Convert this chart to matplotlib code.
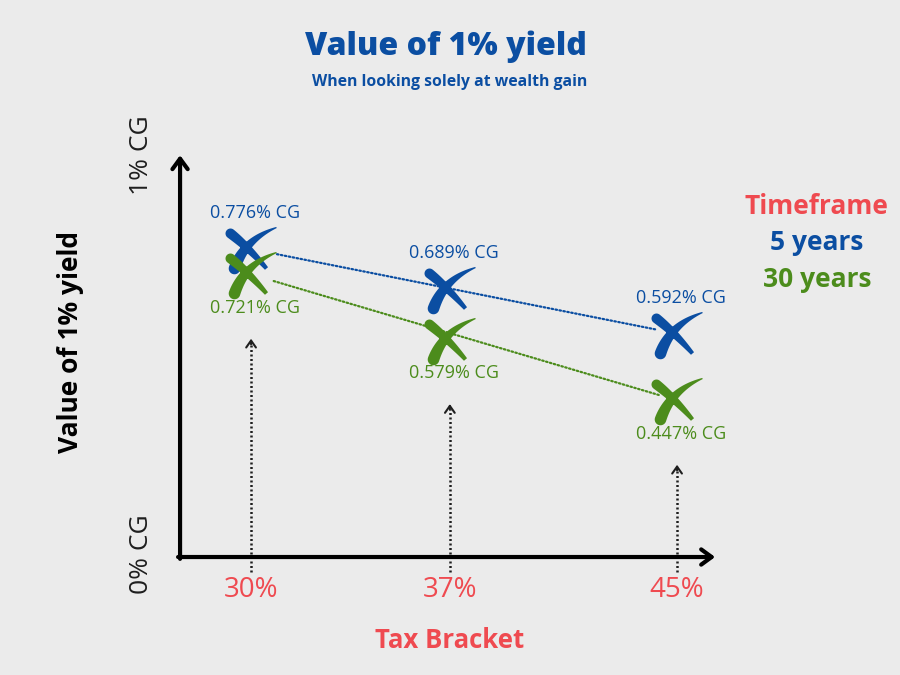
import matplotlib.pyplot as plt
import numpy as np
from matplotlib.path import Path

plt.rcParams['font.family'] = ['Open Sans', 'DejaVu Sans']

# data
brackets = [30, 37, 45]
bracket_labels = ['30%', '37%', '45%']
value_5y = [0.776, 0.689, 0.592]
value_30y = [0.721, 0.579, 0.447]

BG = '#ebebeb'
BLUE = '#0b4ea2'
GREEN = '#4c8c1c'
RED = '#ef4a50'
DARK = '#1e1e1e'


def stroke(p0, p1, p2, w0, w1, n=40):
    # tapered brush stroke along a quadratic bezier, round cap at the start
    p0, p1, p2 = map(np.array, (p0, p1, p2))
    t = np.linspace(0, 1, n)[:, None]
    pts = (1 - t)**2 * p0 + 2 * (1 - t) * t * p1 + t**2 * p2
    d = 2 * (1 - t) * (p1 - p0) + 2 * t * (p2 - p1)
    d = d / np.linalg.norm(d, axis=1)[:, None]
    nrm = np.column_stack([-d[:, 1], d[:, 0]])
    w = (w0 + (w1 - w0) * t[:, 0]**1.4)[:, None]
    left = pts + nrm * w
    right = pts - nrm * w
    th = np.arctan2(d[0, 1], d[0, 0])
    ang = th - np.pi / 2 - np.linspace(0, np.pi, 15)
    cap = p0 + w0 * np.column_stack([np.cos(ang), np.sin(ang)])
    poly = np.vstack([left, right[::-1], cap])
    x, y = poly[:, 0], poly[:, 1]
    area = 0.5 * np.sum(x * np.roll(y, -1) - np.roll(x, -1) * y)
    if area < 0:
        poly = poly[::-1]
    return poly


s1 = stroke((-21, 16), (-3, 2), (15, -19), 5.0, 2.0)
s2 = stroke((-17, -19), (-7, 10), (25, 22), 5.8, 0.6)
verts, codes = [], []
for s in (s1, s2):
    verts += list(s) + [s[0]]
    codes += [Path.MOVETO] + [Path.LINETO] * (len(s) - 1) + [Path.CLOSEPOLY]
brush_x = Path(np.array(verts), codes)
msize = 2 * np.max(np.abs(verts)) * 0.72

fig = plt.figure(figsize=(9, 6.75), dpi=100, facecolor=BG)
ax = fig.add_axes([0, 0, 1, 1])
ax.set_facecolor(BG)
ax.set_xlim(21.16, 52.85)
ax.set_ylim(-0.15, 1.3174)
ax.axis('off')

# axes with arrow heads
x0, y0 = 27.5, 0.1065
ax.annotate('', xy=(x0, 0.98), xytext=(x0, y0 - 0.004),
            arrowprops=dict(arrowstyle='->,head_length=0.75,head_width=0.55',
                            lw=3, color='black', shrinkA=0, shrinkB=0, mutation_scale=10))
ax.annotate('', xy=(46.34, y0), xytext=(x0 - 0.07, y0),
            arrowprops=dict(arrowstyle='->,head_length=0.75,head_width=0.55',
                            lw=3, color='black', shrinkA=0, shrinkB=0, mutation_scale=10))

# vertical dotted pointers
for b, g in zip(brackets, value_30y):
    tip = g - 0.14
    ax.plot([b, b], [0.074, tip - 0.01], color=DARK, lw=1.8, ls=(0, (0.8, 1.0)))
    ax.annotate('', xy=(b, tip), xytext=(b, tip - 0.012),
                arrowprops=dict(arrowstyle='->,head_length=0.5,head_width=0.35',
                                lw=1.5, color=DARK, shrinkA=0, shrinkB=0, mutation_scale=10))

# dotted trend lines
for vals, col, sa, sb in [(value_5y, BLUE, 19, 15), (value_30y, GREEN, 17, 13)]:
    ax.annotate('', xy=(brackets[-1], vals[-1]), xytext=(brackets[0], vals[0]),
                arrowprops=dict(arrowstyle='-', color=col, lw=1.6, ls=(0, (0.7, 1.1)),
                                shrinkA=sa, shrinkB=sb))

# brush-stroke markers
ax.plot(brackets, value_5y, ls='none', marker=brush_x, ms=msize, mfc=BLUE, mec='none', zorder=5)
ax.plot(brackets, value_30y, ls='none', marker=brush_x, ms=msize, mfc=GREEN, mec='none', zorder=5)

for b, v in zip(brackets, value_5y):
    ax.annotate(f'{v:.3f}% CG', (b, v), xytext=(3, 26), textcoords='offset points',
                ha='center', va='center', color=BLUE, fontsize=13)
for b, v in zip(brackets, value_30y):
    ax.annotate(f'{v:.3f}% CG', (b, v), xytext=(3, -24), textcoords='offset points',
                ha='center', va='center', color=GREEN, fontsize=13)

# category labels
xt = ax.get_xaxis_transform()
for b, lab in zip(brackets, bracket_labels):
    ax.text(b, 1 - 590 / 675, lab, transform=xt, ha='center', va='center',
            color=RED, fontsize=20)

fig.text(141 / 900, 1 - 155 / 675, '1% CG', rotation=90, ha='center', va='center',
         color=DARK, fontsize=19)
fig.text(141 / 900, 1 - 554 / 675, '0% CG', rotation=90, ha='center', va='center',
         color=DARK, fontsize=19)
fig.text(70 / 900, 1 - 342 / 675, 'Value of 1% yield', rotation=90, ha='center', va='center',
         color='black', fontsize=19, fontweight='bold')
fig.text(450 / 900, 1 - 640 / 675, 'Tax Bracket', ha='center', va='center',
         color=RED, fontsize=18.5, fontweight='bold')

fig.text(446 / 900, 1 - 47 / 675, 'Value of 1% yield', ha='center', va='center',
         color=BLUE, fontsize=23, fontweight=800)
fig.text(450 / 900, 1 - 82 / 675, 'When looking solely at wealth gain', ha='center', va='center',
         color=BLUE, fontsize=11.3, fontweight='bold')

fig.text(816 / 900, 1 - 207 / 675, 'Timeframe', ha='center', va='center',
         color=RED, fontsize=19, fontweight='bold')
fig.text(817 / 900, 1 - 243 / 675, '5 years', ha='center', va='center',
         color=BLUE, fontsize=19, fontweight='bold')
fig.text(817 / 900, 1 - 280 / 675, '30 years', ha='center', va='center',
         color=GREEN, fontsize=19, fontweight='bold')

fig.savefig('out.png', dpi=100, facecolor=BG)
